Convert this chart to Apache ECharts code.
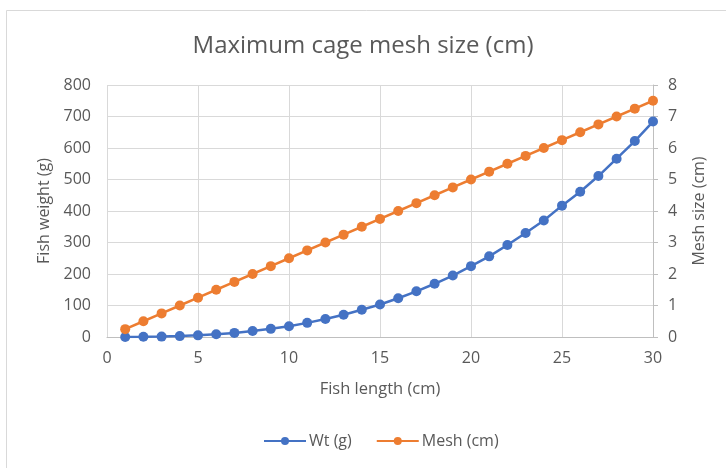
<!DOCTYPE html>
<html>
<head>
<meta charset="utf-8">
<script src="https://cdn.jsdelivr.net/npm/echarts@6/dist/echarts.min.js"></script>
<style>html,body{margin:0;padding:0;background:#fff;}#c{width:726px;height:468px;}</style>
</head>
<body>
<div id="c"></div>
<script>
var fishLength = [1,2,3,4,5,6,7,8,9,10,11,12,13,14,15,16,17,18,19,20,21,22,23,24,25,26,27,28,29,30];
var wtValues = [0.1,0.6,1.3,2.8,5.2,8.6,13,18.8,25.9,34.2,44.9,57,70.8,86.5,103,123,145,169,195,225,256,292,330,370,417,461,511,566,622,684];
var meshValues = [0.25,0.5,0.75,1,1.25,1.5,1.75,2,2.25,2.5,2.75,3,3.25,3.5,3.75,4,4.25,4.5,4.75,5,5.25,5.5,5.75,6,6.25,6.5,6.75,7,7.25,7.5];
var seriesNames = ['Wt (g)', 'Mesh (cm)'];

var FONT = '"Open Sans", sans-serif';
var TXT = '#595959';
var chart = echarts.init(document.getElementById('c'), null, {renderer: 'canvas'});
function pairs(xs, ys){ return xs.map(function(x,i){ return [x, ys[i]]; }); }
chart.setOption({
  animation: false,
  backgroundColor: '#fff',
  textStyle: {fontFamily: FONT},
  title: {
    text: 'Maximum cage mesh size (cm)',
    left: 'center', top: 29,
    textStyle: {fontFamily: FONT, fontSize: 24, fontWeight: 'normal', color: TXT}
  },
  graphic: [{
    type: 'rect', shape: {x: 6.5, y: 10.5, width: 740, height: 480},
    style: {fill: 'none', stroke: '#d9d9d9', lineWidth: 1}, silent: true, z: -1
  }],
  legend: {
    bottom: 14, left: 258, itemGap: 24, itemWidth: 42, itemHeight: 10,
    data: seriesNames,
    textStyle: {fontFamily: FONT, fontSize: 16, color: TXT, padding: [0,0,0,-2]}
  },
  grid: {left: 107, right: 73, top: 85, bottom: 131},
  xAxis: {
    type: 'value', min: 0, max: 30, interval: 5,
    name: 'Fish length (cm)', nameLocation: 'middle', nameGap: 44,
    nameTextStyle: {fontFamily: FONT, fontSize: 16.5, color: TXT},
    axisLine: {show: true, lineStyle: {color: '#bfbfbf', width: 1}},
    axisTick: {show: false},
    axisLabel: {fontFamily: FONT, fontSize: 16, color: TXT, margin: 13},
    splitLine: {show: true, lineStyle: {color: '#d9d9d9', width: 1}}
  },
  yAxis: [{
    type: 'value', min: 0, max: 800, interval: 100,
    name: 'Fish weight (g)', nameLocation: 'middle', nameGap: 50,
    nameTextStyle: {fontFamily: FONT, fontSize: 16, color: TXT},
    axisLine: {show: false}, axisTick: {show: false},
    axisLabel: {fontFamily: FONT, fontSize: 16, color: TXT, margin: 16},
    splitLine: {show: true, lineStyle: {color: '#d9d9d9', width: 1}}
  }, {
    type: 'value', min: 0, max: 8, interval: 1, position: 'right',
    name: 'Mesh size (cm)', nameLocation: 'middle', nameGap: 38, nameRotate: 90,
    nameTextStyle: {fontFamily: FONT, fontSize: 16, color: TXT},
    axisLine: {show: true, lineStyle: {color: '#bfbfbf', width: 1}},
    axisTick: {show: true, length: 5, lineStyle: {color: '#bfbfbf'}},
    axisLabel: {fontFamily: FONT, fontSize: 16, color: TXT, margin: 15},
    splitLine: {show: false}
  }],
  series: [{
    name: seriesNames[0], type: 'line', yAxisIndex: 0,
    data: pairs(fishLength, wtValues),
    symbol: 'circle', symbolSize: 10,
    itemStyle: {color: '#4472C4'},
    lineStyle: {color: '#4472C4', width: 2.5}
  }, {
    name: seriesNames[1], type: 'line', yAxisIndex: 1,
    data: pairs(fishLength, meshValues),
    symbol: 'circle', symbolSize: 10,
    itemStyle: {color: '#ED7D31'},
    lineStyle: {color: '#ED7D31', width: 2.5}
  }]
});
</script>
</body>
</html>
